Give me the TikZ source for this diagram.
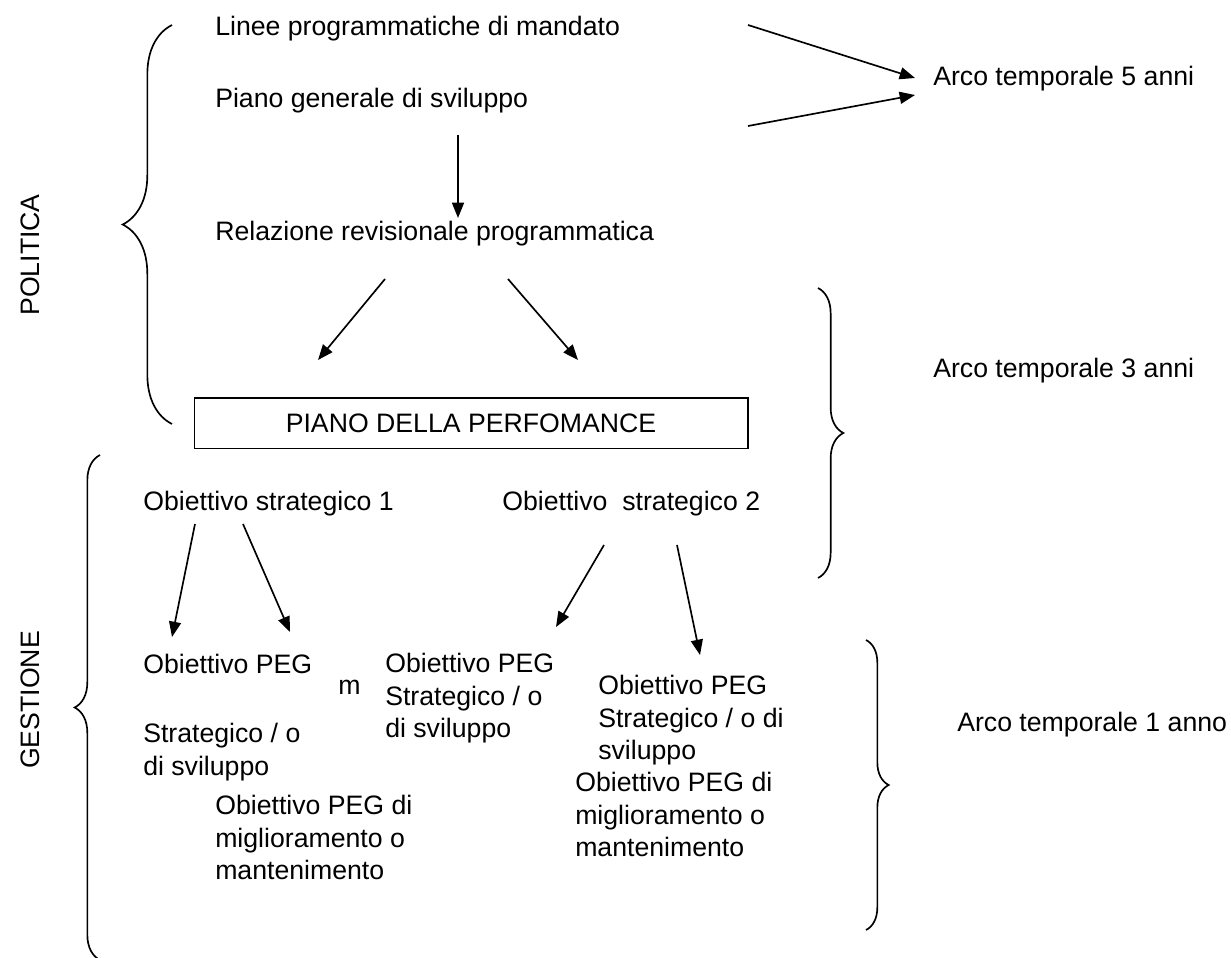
\documentclass[tikz,border=0pt]{standalone}
\usepackage{fontspec}
\setmainfont{Liberation Sans}
\usetikzlibrary{arrows.meta,decorations.pathreplacing}

\begin{document}
\begin{tikzpicture}[x=0.75pt, y=-0.75pt, >={Triangle[length=11.5pt,width=9pt]},
    every node/.style={font=\fontsize{20}{24.3}\selectfont, inner sep=0pt, anchor=north west, align=left},
    lnk/.style={->, line width=1.25pt},
    curly/.style={decorate, decoration={brace, amplitude=#1}, line width=1.25pt}]
\useasboundingbox (0,0) rectangle (1231,957);

% Nodes
\node (linee) at (215,16) {Linee programmatiche di mandato};
\node (piano) at (215,88) {Piano generale di sviluppo};
\node (rpp) at (215,221) {Relazione revisionale programmatica};
\node (a5) at (933,66) {Arco temporale 5 anni};
\node (a3) at (933,358) {Arco temporale 3 anni};
\node (a1) at (957,712) {Arco temporale 1 anno};
\node[draw, line width=1.25pt, anchor=center, minimum width=415pt, minimum height=38pt] (perf) at (471,423) {PIANO DELLA PERFOMANCE};
\node (os1) at (143,491) {Obiettivo strategico 1};
\node (os2) at (502,491) {Obiettivo\ \ strategico 2};
\node (peg1) at (143,654) {Obiettivo PEG};
\node[anchor=base west] (mm) at (338,694) {m};
\node (str1) at (143,723) {Strategico / o\\di sviluppo};
\node (peg2) at (385,653) {Obiettivo PEG\\Strategico / o\\di sviluppo};
\node (peg3) at (598,675) {Obiettivo PEG\\Strategico / o di\\sviluppo};
\node (mig1) at (215,795) {Obiettivo PEG di\\miglioramento o\\mantenimento};
\node (mig2) at (575,772) {Obiettivo PEG di\\miglioramento o\\mantenimento};
\node[rotate=90, anchor=center] (pol) at (30,255) {POLITICA};
\node[rotate=90, anchor=center] (gest) at (30,700) {GESTIONE};

% Links
\coordinate (l1) at (748,25);
\coordinate (l2) at (748,126);
\coordinate (t1) at (915,78);
\coordinate (t2) at (915,95);
\coordinate (p1) at (458,135);
\coordinate (p2) at (458,218);
\coordinate (r1) at (385,279);
\coordinate (r2) at (508,279);
\coordinate (e1) at (318,360);
\coordinate (e2) at (578,360);
\coordinate (s1) at (195,524);
\coordinate (s2) at (243,524);
\coordinate (s3) at (604,545);
\coordinate (s4) at (677,545);
\coordinate (g1) at (172,637);
\coordinate (g2) at (290,632);
\coordinate (g3) at (556,627);
\coordinate (g4) at (700,655);
\draw[lnk] (l1) -- (t1);
\draw[lnk] (l2) -- (t2);
\draw[lnk] (p1) -- (p2);
\draw[lnk] (r1) -- (e1);
\draw[lnk] (r2) -- (e2);
\draw[lnk] (s1) -- (g1);
\draw[lnk] (s2) -- (g2);
\draw[lnk] (s3) -- (g3);
\draw[lnk] (s4) -- (g4);

% Braces
\draw[curly=37pt] (172,424) -- (172,25);
\draw[curly=19pt] (100,960) -- (100,455);
\draw[curly=19pt] (818,288) -- (818,578);
\draw[curly=17pt] (866,640) -- (866,930);
\end{tikzpicture}
\end{document}
